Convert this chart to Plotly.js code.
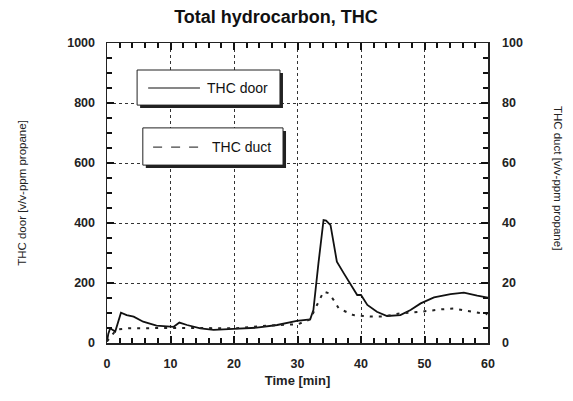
<!DOCTYPE html>
<html><head><meta charset="utf-8">
<script src="https://cdn.plot.ly/plotly-3.0.1.min.js"></script>
<style>body{margin:0;background:#fff}#c{width:573px;height:401px}</style>
</head><body><div id="c"></div>
<script>
// Time (min) and THC door (v/v-ppm propane, left axis)
const doorTime = [0, 0.2, 0.5, 1.3, 2.2, 3.1, 4.2, 5.7, 7.8, 9.9, 10.5, 11.4, 12.6, 14.7, 16.8, 19.9, 23.6, 26.8, 29.9, 32.0, 32.5, 33.3, 34.1, 34.5, 35.2, 35.7, 36.2, 37.3, 38.3, 39.4, 40.0, 41.0, 42.5, 44.1, 46.2, 47.8, 49.4, 51.5, 54.1, 56.2, 58.3, 60];
const doorTHC  = [5, 30, 49, 38, 101, 93, 88, 71, 58, 54, 54, 68, 60, 49, 44, 47, 51, 60, 74, 79, 110, 266, 410, 408, 393, 332, 271, 232, 199, 160, 160, 127, 104, 90, 93, 110, 132, 152, 163, 168, 158, 151];
// Time (min) and THC duct (v/v-ppm propane, right axis)
const ductTime = [0, 1.5, 3.4, 6, 10, 14, 18, 20, 23.6, 26.8, 30, 32.0, 32.8, 33.6, 34.1, 34.9, 35.7, 36.5, 37.8, 38.8, 41.5, 43.6, 46.2, 49.4, 52.5, 54.6, 56.7, 59.9];
const ductTHC  = [0.5, 4.5, 4.9, 5.0, 5.0, 5.0, 4.8, 4.9, 5.5, 6.0, 6.2, 7.9, 11.5, 15.0, 17.1, 16.6, 14.3, 11.5, 10.4, 9.3, 8.8, 8.8, 9.9, 10.4, 11.2, 11.5, 10.7, 9.6];
const xRange = [0, 60];
const yRange = [0, 1000];
const y2Range = [0, 100];

const FONT = 'Liberation Sans, Arial, sans-serif';
const tickFont = {family: FONT, size: 12.5, color: '#222', weight: 'bold'};

const traces = [
  {x: doorTime, y: doorTHC, type: 'scatter', mode: 'lines', name: 'THC door',
   line: {color: '#111', width: 1.8}, xaxis: 'x', yaxis: 'y'},
  {x: ductTime, y: ductTHC, type: 'scatter', mode: 'lines', name: 'THC duct',
   line: {color: '#222', width: 2, dash: '3px,6px'}, xaxis: 'x', yaxis: 'y2'}
];

function box(x0, x1, y0, y1) {
  const dx = 3/381, dy = 3/300;
  return [
    {type: 'rect', xref: 'paper', yref: 'paper', x0: x0+dx, x1: x1+dx, y0: y0-dy, y1: y1-dy,
     fillcolor: '#222', line: {width: 0}, layer: 'above'},
    {type: 'rect', xref: 'paper', yref: 'paper', x0: x0, x1: x1, y0: y0, y1: y1,
     fillcolor: '#fff', line: {color: '#222', width: 1}, layer: 'above'}
  ];
}

const shapes = [].concat(
  box(0.079, 0.454, 0.793, 0.91),
  box(0.094, 0.462, 0.593, 0.717),
  [
    {type: 'line', xref: 'paper', yref: 'paper', x0: 0.108, x1: 0.244, y0: 0.85, y1: 0.85,
     line: {color: '#111', width: 1.2}, layer: 'above'},
    {type: 'line', xref: 'paper', yref: 'paper', x0: 0.121, x1: 0.257, y0: 0.653, y1: 0.653,
     line: {color: '#444', width: 1.2, dash: 'dash'}, layer: 'above'}
  ]
);

const layout = {
  width: 573, height: 401,
  margin: {l: 107, r: 85, t: 43, b: 58},
  paper_bgcolor: '#fff', plot_bgcolor: '#fff',
  showlegend: false,
  title: {text: '<b>Total hydrocarbon, THC</b>', font: {family: FONT, size: 18, color: '#111'},
          x: 276/573, xanchor: 'center', y: 1 - 17/401, yanchor: 'middle'},
  xaxis: {
    range: xRange, tickmode: 'linear', tick0: 0, dtick: 10,
    showline: true, linecolor: '#222', linewidth: 1.5, mirror: 'ticks',
    ticks: 'inside', ticklen: 7, tickwidth: 2, tickcolor: '#111',
    minor: {dtick: 2, ticks: 'inside', ticklen: 5, tickwidth: 2, tickcolor: '#111'},
    showgrid: true, gridcolor: '#333', griddash: 'dot',
    tickfont: tickFont, ticklabelstandoff: 8,
    title: {text: '<b>Time [min]</b>', font: {family: FONT, size: 13, color: '#222'}, standoff: 6}
  },
  yaxis: {
    range: yRange, tickmode: 'linear', tick0: 0, dtick: 200,
    showline: true, linecolor: '#222', linewidth: 1.5,
    ticks: 'inside', ticklen: 7, tickwidth: 2, tickcolor: '#111',
    minor: {dtick: 50, ticks: 'inside', ticklen: 5, tickwidth: 2, tickcolor: '#111'},
    showgrid: true, gridcolor: '#333', griddash: 'dot', zeroline: false,
    tickfont: tickFont, ticklabelstandoff: 8,
    title: {text: 'THC door [v/v-ppm propane]', font: {family: FONT, size: 11.5, color: '#222'}, standoff: 38}
  },
  yaxis2: {
    overlaying: 'y', side: 'right', anchor: 'x',
    range: y2Range, tickmode: 'linear', tick0: 0, dtick: 20,
    showline: true, linecolor: '#222', linewidth: 1.5,
    ticks: 'inside', ticklen: 7, tickwidth: 2, tickcolor: '#111',
    minor: {dtick: 5, ticks: 'inside', ticklen: 5, tickwidth: 2, tickcolor: '#111'},
    showgrid: false, zeroline: false,
    tickfont: tickFont, ticklabelstandoff: 10
  },
  shapes: shapes,
  annotations: [
    {xref: 'paper', yref: 'paper', x: 0.257, y: 0.85, xanchor: 'left', yanchor: 'middle',
     text: 'THC door', showarrow: false, font: {family: FONT, size: 14, color: '#111'}},
    {xref: 'paper', yref: 'paper', x: 0.27, y: 0.653, xanchor: 'left', yanchor: 'middle',
     text: 'THC duct', showarrow: false, font: {family: FONT, size: 14, color: '#111'}},
    {xref: 'paper', yref: 'paper', x: 1.184, y: 0.55, xanchor: 'center', yanchor: 'middle',
     text: 'THC duct [v/v-ppm propane]', textangle: 90, showarrow: false,
     font: {family: FONT, size: 11.5, color: '#222'}}
  ]
};

Plotly.newPlot('c', traces, layout, {staticPlot: true, displayModeBar: false});
</script></body></html>
